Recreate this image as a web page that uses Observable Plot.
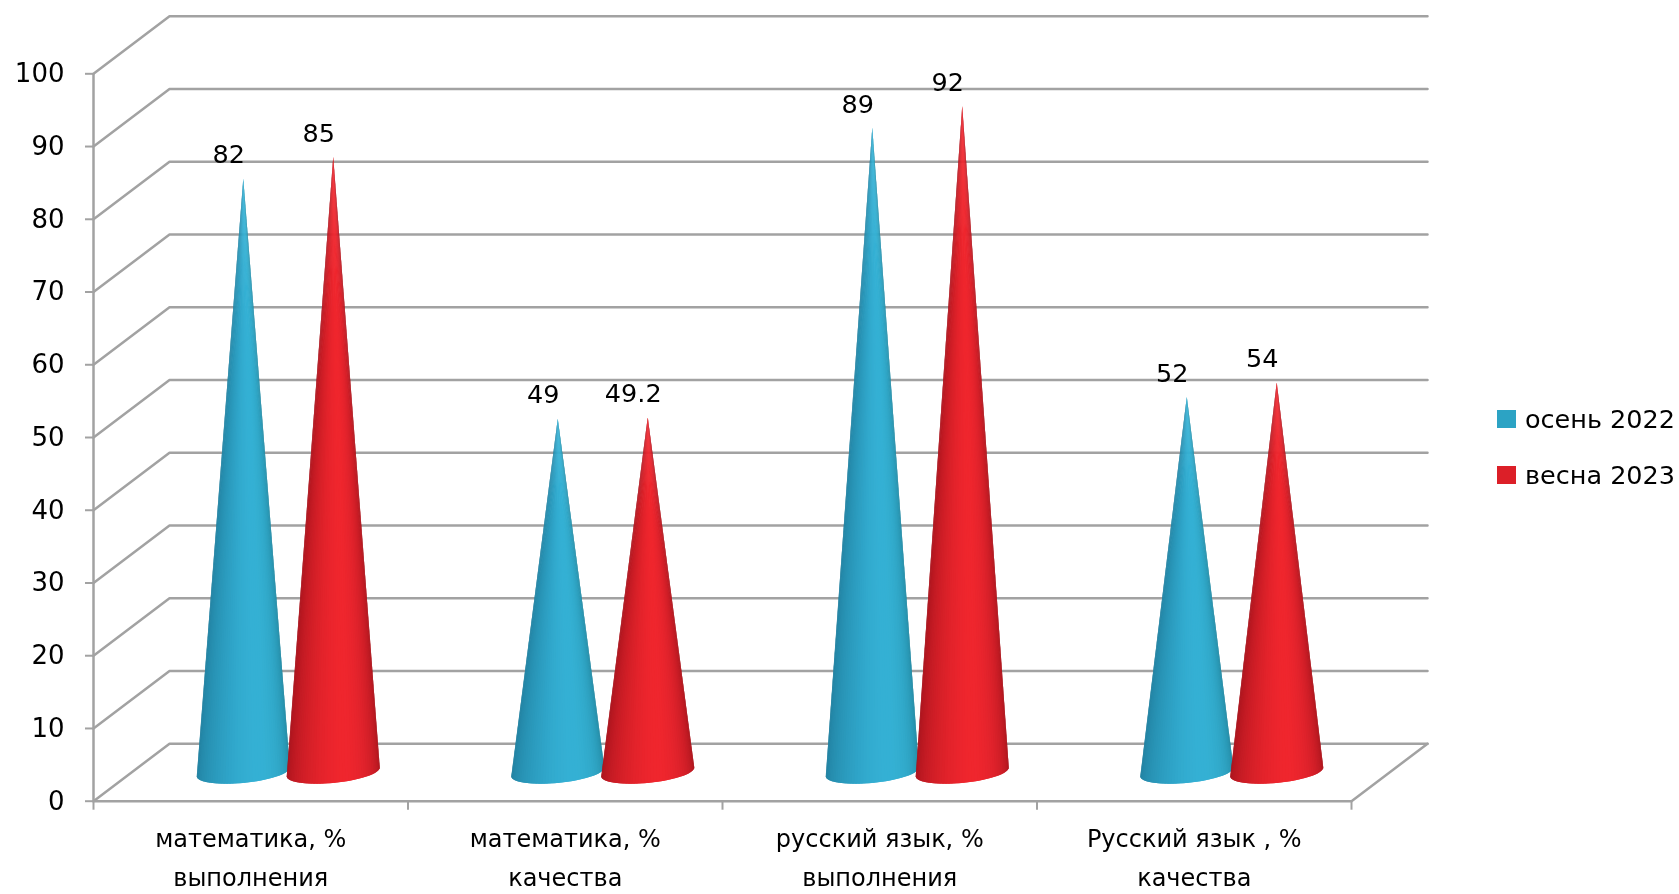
<!DOCTYPE html>
<html lang="ru">
<head>
<meta charset="utf-8">
<script src="https://cdn.jsdelivr.net/npm/d3@7"></script>
<script src="https://cdn.jsdelivr.net/npm/@observablehq/plot@0.6"></script>
<style>
html,body{margin:0;padding:0;background:#fff}
#wrap{position:relative;width:1679px;height:894px;overflow:hidden;filter:blur(0.45px)}
#legend{position:absolute;left:1497px;top:391px;font:25.5px "DejaVu Sans",sans-serif;color:#000;white-space:nowrap}
#legend div{display:flex;align-items:center;height:56px}
#legend i{display:inline-block;width:19px;height:18px;margin-right:9px}
</style>
</head>
<body>
<div id="wrap"><div id="legend"></div></div>
<script>
const categories = ["математика, %\nвыполнения", "математика, %\nкачества", "русский язык, %\nвыполнения", "Русский язык , %\nкачества"];
const seriesNames = ["осень 2022", "весна 2023"];
const autumn = [82, 49, 89, 52];
const spring = [85, 49.2, 92, 54];
const seriesValues = [autumn, spring];
const valueLabels = [["82", "49", "89", "52"], ["85", "49.2", "92", "54"]];
const yTicks = [0, 10, 20, 30, 40, 50, 60, 70, 80, 90, 100];
const legendColors = ["#2ca3c4", "#dc1f28"];
const shades = [
  ["#217f9e", "#2790b2", "#2fa6c9", "#37b5da", "#30a8c8", "#23869f"],
  ["#a4131c", "#c41b24", "#e4232b", "#f7282f", "#d6202a", "#a5141b"]
];

// Projection of the pseudo-3D floor, in chart units (categories, percent)
const depthX = 0.2417, depthY = 7.9;
const seriesOffset = [-0.143, 0.143];
const radiusX = 0.148, radiusY = 1.5, tilt = 0.6, tipInset = 0.45;

const grid = yTicks.flatMap(v => [
  {v, x: 0, y: v},
  {v, x: depthX, y: v + depthY},
  {v, x: categories.length + depthX, y: v + depthY}
]);
const floorEdge = [
  {x: 0, y: 0},
  {x: categories.length, y: 0},
  {x: categories.length + depthX, y: depthY}
];

const N = 48;
const slices = [];
const tips = [];
seriesValues.forEach((vals, s) => {
  const ramp = d3.interpolateRgbBasis(shades[s]);
  vals.forEach((v, c) => {
    const cx = c + 0.5 + seriesOffset[s] + depthX / 2;
    const cy = depthY / 2;
    const tip = {x: cx, y: v + depthY / 2 - tipInset};
    tips.push({...tip, label: valueLabels[s][c]});
    const pt = t => {
      const a = Math.PI * (1 - t);
      return {bx: cx + radiusX * Math.cos(a), by: cy + tilt * Math.cos(a) - radiusY * Math.sin(a)};
    };
    for (let i = 0; i < N; i++) {
      const id = `${s}-${c}-${String(i).padStart(2, "0")}`;
      const color = ramp((i + 0.5) / N);
      // Each slice overlaps the next one so no seam shows between them.
      slices.push({id, color, tx: tip.x, ty: tip.y, ...pt(i / N)});
      slices.push({id, color, tx: tip.x, ty: tip.y, ...pt(Math.min(1, (i + 2) / N))});
    }
  });
});

const gray = "#a2a2a2";
const chart = Plot.plot({
  width: 1679, height: 894,
  marginLeft: 93, marginRight: 328, marginTop: 73.3, marginBottom: 93.3,
  style: {fontFamily: "'DejaVu Sans', sans-serif", background: "#fff"},
  x: {type: "linear", domain: [0, categories.length]},
  y: {type: "linear", domain: [0, 100]},
  color: {type: "identity"},
  marks: [
    Plot.line(grid, {x: "x", y: "y", z: "v", stroke: gray, strokeWidth: 2.5, curve: "linear"}),
    Plot.line(floorEdge, {x: "x", y: "y", stroke: gray, strokeWidth: 2.5}),
    Plot.ruleX([0], {y1: 0, y2: 100, stroke: gray, strokeWidth: 2.5}),
    Plot.axisY({ticks: yTicks, tickSize: 8, tickPadding: 21, stroke: gray, strokeWidth: 2, fill: "#000", fontSize: 26, label: null, tickFormat: d => d}),
    Plot.axisX({ticks: d3.range(categories.length + 1), tickSize: 9, stroke: gray, strokeWidth: 2, tickFormat: () => "", label: null}),
    Plot.axisX({
      ticks: categories.map((d, i) => i + 0.5), tickSize: 0, tickPadding: 18,
      tickFormat: d => categories[Math.floor(d)], lineHeight: 1.62, fontSize: 24, fill: "#000", label: null, lineAnchor: "top"
    }),
    Plot.area(slices, {x1: "bx", y1: "by", x2: "tx", y2: "ty", z: "id", fill: "color"}),
    Plot.text(tips, {x: "x", y: "y", text: "label", dx: -15, dy: -24, fontSize: 25.5, fill: "#000"})
  ]
});
const wrap = document.getElementById("wrap");
wrap.insertBefore(chart, wrap.firstChild);
chart.style.display = "block";
const legend = d3.select("#legend");
seriesNames.forEach((name, i) => {
  const row = legend.append("div");
  row.append("i").style("background", legendColors[i]);
  row.append("span").text(name);
});
</script>
</body>
</html>
